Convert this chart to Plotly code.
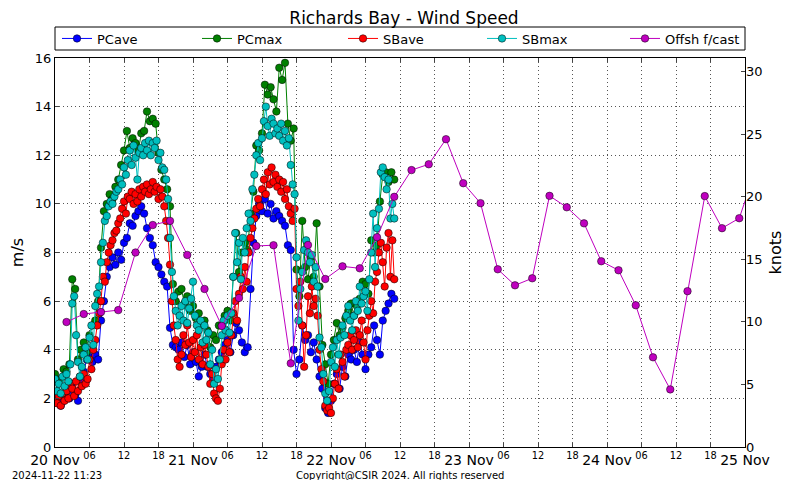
import pandas as pd
import plotly.graph_objects as go

# ---- measured data ------------------------------------------------------
# SB (Richards Bay) 20-min samples from 20 Nov 00:00, m/s (3 per hour)
SBAVE = [
    2.0, 1.8, 2.1, 1.7, 2.2, 1.9, 2.3, 2.0, 2.6, 2.4, 2.1, 2.7,
    2.3, 2.9, 2.5, 3.0, 2.6, 2.8, 3.6, 3.2, 4.0, 4.4, 5.0, 5.5,
    6.0, 7.0, 6.8, 7.6, 8.0, 8.3, 8.5, 8.8, 8.9, 9.2, 9.4, 9.8,
    10.1, 9.6, 10.3, 10.2, 10.5, 10.0, 10.4, 10.1, 10.6, 10.3, 10.7, 10.5,
    10.8, 10.4, 10.6, 10.9, 10.5, 10.7, 10.2, 10.6, 10.3, 9.9, 9.3, 8.6,
    7.5, 6.0, 5.0, 4.4, 3.6, 3.3, 3.8, 4.6, 4.2, 5.0, 4.3, 3.7,
    4.4, 3.9, 4.6, 3.6, 4.1, 3.4, 4.2, 3.8, 3.3, 2.6, 3.0, 2.2,
    2.0, 1.9, 2.4, 3.4, 4.0, 3.6, 4.3, 3.9, 4.6, 5.5, 6.0, 5.2,
    6.3, 7.0, 6.5, 7.4, 6.8, 8.0, 8.6, 9.0, 9.4, 9.8, 10.2, 9.9,
    10.6, 11.0, 10.4, 11.3, 10.8, 11.5, 10.9, 11.2, 10.7, 11.0, 10.5, 10.9,
    10.2, 10.6, 9.9, 9.6, 9.3, 9.8, 6.5, 5.8, 6.8, 5.0, 3.3, 4.6,
    6.2, 5.5, 6.6, 5.8, 6.1, 5.4, 4.0, 3.2, 2.7, 1.7, 1.5, 1.6,
    1.4, 2.0, 2.6, 3.2, 2.4, 3.8, 3.5, 2.9, 4.0, 4.2, 4.6, 4.0,
    4.4, 4.8, 4.1, 4.6, 5.2, 4.3, 3.6, 4.8, 5.4, 6.0, 5.5, 6.8,
    7.2, 8.0, 8.4, 7.6, 6.6, 8.2, 8.8, 7.0, 8.5, 6.9,
]
SBMAX = [
    2.8, 2.3, 2.6, 2.2, 2.9, 2.5, 3.0, 2.7, 3.4, 5.9, 6.2, 4.6,
    3.5, 2.9, 3.3, 3.8, 4.1, 3.6, 4.5, 5.0, 4.2, 5.8, 6.3, 6.6,
    7.6, 8.4, 9.3, 9.5, 9.9, 10.1, 10.0, 10.3, 10.5, 10.6, 11.0, 10.8,
    11.5, 11.2, 11.8, 12.2, 11.6, 12.4, 11.9, 11.0, 12.1, 12.3, 12.0, 12.5,
    12.2, 12.6, 12.0, 12.5, 12.3, 12.6, 11.8, 12.1, 11.5, 11.4, 11.0, 10.2,
    8.6, 7.2, 6.2, 5.6, 5.0, 5.4, 5.8, 5.2, 6.0, 5.1, 5.7, 6.1,
    6.8, 5.4, 5.0, 4.8, 5.2, 4.3, 5.0, 4.4, 4.7, 3.4, 4.0, 2.6,
    3.2, 2.8, 3.6, 4.6, 5.2, 4.8, 5.4, 4.7, 5.5, 7.0, 8.8, 7.6,
    8.4, 6.9, 8.6, 8.0, 9.0, 9.6, 9.3, 10.6, 11.2, 12.0, 12.5, 11.8,
    12.7, 13.4, 14.0, 13.2, 12.8, 13.5, 13.3, 12.9, 13.1, 12.8, 13.3, 12.6,
    13.0, 12.4, 12.7, 11.6, 10.8, 10.4, 7.8, 5.2, 6.5, 7.2, 8.1, 8.5,
    8.0, 7.6, 7.9, 6.8, 7.4, 6.6, 4.5, 4.1, 3.0, 2.2, 1.9, 2.3,
    3.5, 4.1, 3.3, 4.4, 3.8, 4.5, 5.0, 4.6, 5.4, 5.8, 5.2, 4.8,
    5.4, 6.0, 5.6, 6.6, 5.9, 6.2, 6.4, 5.6, 6.9, 8.0, 9.6, 7.4,
    9.0, 9.8, 11.3, 11.5, 11.1, 10.6, 11.0, 9.4, 10.0, 9.4,
]
# PC 30-min samples from 20 Nov 00:00, m/s (2 per hour)
PCAVE = [
    1.9, 2.1, 1.7, 1.9, 2.3, 2.0, 2.6, 2.2, 1.9, 2.8, 3.1, 3.6,
    3.7, 3.5, 3.8, 3.6, 5.2, 6.0, 7.0, 7.4, 7.8, 7.5, 8.0, 7.7,
    8.4, 8.6, 9.2, 9.1, 9.5, 9.7, 9.9, 9.6, 9.0, 8.6, 8.3, 7.6,
    7.4, 7.1, 6.8, 6.6, 4.9, 4.2, 4.1, 4.0, 4.3, 3.7, 4.2, 3.4,
    3.9, 3.5, 2.9, 3.3, 3.8, 3.3, 3.0, 2.8, 3.3, 3.6, 3.9, 4.2,
    4.4, 3.9, 4.6, 5.1, 4.8, 4.3, 3.9, 4.1, 6.5, 8.4, 9.5, 10.0,
    9.7, 10.2, 9.6, 10.0, 9.4, 9.7, 9.5, 9.3, 9.1, 8.3, 8.1, 4.0,
    3.0, 3.6, 5.0, 4.4, 4.6, 3.9, 4.3, 3.6, 2.9, 2.4, 1.6, 1.4,
    1.9, 2.6, 3.0, 2.4, 3.3, 2.9, 3.8, 3.6, 4.0, 3.5, 4.3, 3.8,
    3.2, 3.8, 4.1, 5.0, 4.4, 3.8, 5.2, 5.6, 5.9, 6.3, 6.1,
]
PCMAX = [
    3.0, 2.7, 2.8, 3.2, 3.1, 3.4, 6.9, 6.5, 3.6, 4.0, 4.3, 3.9,
    4.6, 5.0, 5.2, 6.0, 8.2, 9.7, 10.0, 10.4, 10.2, 10.7, 11.0, 11.6,
    12.2, 13.0, 12.3, 12.7, 12.5, 12.2, 12.9, 13.0, 13.8, 13.4, 13.5, 13.3,
    12.1, 11.4, 11.0, 10.6, 9.9, 6.7, 6.0, 6.4, 6.5, 5.9, 6.2, 5.6,
    5.8, 5.3, 5.5, 5.0, 5.2, 4.8, 4.1, 4.6, 4.4, 5.0, 5.0, 5.4,
    5.6, 5.2, 7.0, 8.8, 7.2, 8.0, 8.4, 8.1, 9.6, 10.5, 12.4, 12.2,
    12.9, 14.9, 14.5, 14.8, 14.3, 13.8, 15.6, 15.1, 15.8, 13.3, 12.6, 13.1,
    7.3, 6.2, 9.3, 7.4, 6.9, 7.8, 7.0, 9.2, 6.6, 4.2, 3.4, 2.6,
    3.8, 4.4, 5.1, 4.6, 4.9, 5.3, 5.6, 5.9, 5.4, 5.8, 6.1, 6.8,
    6.7, 6.3, 8.5, 8.0, 8.3, 10.1, 11.2, 11.3, 10.9, 11.3, 11.0,
]
# offshore forecast, 3-hourly from 20 Nov 02:00, m/s
FCAST = [
    5.14, 5.47, 5.55, 5.63, 8.0, 9.13, 9.3, 7.9, 6.5, 4.98, 6.13, 8.27,
    8.3, 3.44, 8.31, 6.91, 7.43, 7.35, 8.63, 10.29, 11.39, 11.63, 12.66,
    10.85, 10.03, 7.31, 6.65, 6.94, 10.33, 9.86, 9.2, 7.64, 7.27, 5.83,
    3.69, 2.37, 6.41, 10.32, 9.0, 9.41, 11.5,
]

DAY_LABELS = ["20 Nov", "21 Nov", "22 Nov", "23 Nov", "24 Nov", "25 Nov"]
HOUR_LABELS = ["06", "12", "18"]
MS_TO_KT = 1.94384

FONT = "DejaVu Sans, sans-serif"
START = pd.Timestamp("2024-11-20 00:00")
t_sb = pd.date_range(START, periods=len(SBAVE), freq="20min")
t_pc = pd.date_range(START, periods=len(PCAVE), freq="30min")
t_fc = pd.date_range(START + pd.Timedelta(hours=2), periods=len(FCAST), freq="3h")

series = [
    ("PCave", t_pc, PCAVE, "#0000ff"),
    ("PCmax", t_pc, PCMAX, "#008000"),
    ("SBave", t_sb, SBAVE, "#ff0000"),
    ("SBmax", t_sb, SBMAX, "#00bfbf"),
    ("Offsh f/cast", t_fc, FCAST, "#bf00bf"),
]
# left edge (page px) of each legend entry, matplotlib "expand" spacing
LEG_X = [57, 197, 343, 482, 625]

# the page body has an 8px margin, so the figure is 792x472 at (8, 8);
# positions below are given in page pixels, plot box x 55..745, y 58..447
OFF = 8
W, H = 800 - OFF, 480 - OFF
L, R, T, B = 55 - OFF, 745 - OFF, 58 - OFF, 447 - OFF


def fx(page_x):
    return (page_x - OFF - L) / (R - L)


def fy(page_y):
    return (B - (page_y - OFF)) / (B - T)


fig = go.Figure()
for i, (name, t, v, col) in enumerate(series):
    fig.add_trace(go.Scatter(
        x=t, y=v, name=name, mode="lines+markers",
        line=dict(color=col, width=1),
        marker=dict(color=col, size=7.5, line=dict(color="black", width=0.5)),
        legend="legend" if i == 0 else f"legend{i + 1}",
    ))
# dummy trace so the knots axis is drawn
fig.add_trace(go.Scatter(x=[START], y=[None], yaxis="y2", showlegend=False,
                         hoverinfo="skip"))

# x ticks every 6 h: day names big, hours as small superscripts
tickvals, ticktext = [], []
for d, lab in enumerate(DAY_LABELS):
    tickvals.append(START + pd.Timedelta(days=d))
    ticktext.append(lab)
    if d < len(DAY_LABELS) - 1:
        for k, h in enumerate(HOUR_LABELS):
            tickvals.append(START + pd.Timedelta(days=d, hours=6 * (k + 1)))
            ticktext.append(f"<sup>{h}</sup>")

legends = {}
for i, lx in enumerate(LEG_X):
    legends["legend" if i == 0 else f"legend{i + 1}"] = dict(
        orientation="h", x=fx(lx), xanchor="left",
        y=fy(38.5), yanchor="middle",
        borderwidth=0, bgcolor="rgba(0,0,0,0)",
        font=dict(size=13), itemwidth=30,
    )

grid = dict(showgrid=True, gridcolor="#555", griddash="1px,3px", gridwidth=1)
fig.update_layout(
    width=W, height=H,
    margin=dict(l=L, r=W - R, t=T, b=H - B, autoexpand=False),
    paper_bgcolor="white", plot_bgcolor="white",
    font=dict(family=FONT, size=13, color="black"),
    title=dict(text="Richards Bay - Wind Speed", x=0.5, xanchor="center",
               y=1 - (18 - OFF) / H, yanchor="middle", yref="container",
               font=dict(size=17)),
    xaxis=dict(
        range=[START, START + pd.Timedelta(days=5)], automargin=False,
        tickvals=tickvals, ticktext=ticktext, tickangle=0,
        tickfont=dict(size=14), ticks="inside", ticklen=4,
        showline=True, linecolor="black", linewidth=1, mirror="ticks",
        zeroline=False, **grid,
    ),
    yaxis=dict(
        range=[0, 16], dtick=2, automargin=False,
        title=dict(text="m/s", standoff=9),
        ticks="inside", ticklen=4, tickfont=dict(size=13),
        showline=True, linecolor="black", linewidth=1, mirror=True,
        zeroline=False, **grid,
    ),
    yaxis2=dict(
        range=[0, 16 * MS_TO_KT], dtick=5, overlaying="y", side="right",
        automargin=False,
        title=dict(text="knots", standoff=8), ticks="inside", ticklen=4,
        tickfont=dict(size=13), showgrid=False, zeroline=False,
        showline=False,
    ),
    showlegend=True,
    shapes=[dict(type="rect", xref="paper", yref="paper",
                 x0=0, x1=1, y0=fy(50), y1=fy(27),
                 line=dict(color="black", width=1), fillcolor="white",
                 layer="below")],
    annotations=[
        dict(text="2024-11-22 11:23", xref="paper", yref="paper",
             x=fx(10), y=fy(475), xanchor="left",
             yanchor="middle", showarrow=False, font=dict(size=10)),
        dict(text="Copyright@CSIR 2024. All rights reserved", xref="paper",
             yref="paper", x=fx(400), y=fy(475), xanchor="center",
             yanchor="middle", showarrow=False, font=dict(size=10)),
    ],
    **legends,
)

fig.write_html("out.html")
